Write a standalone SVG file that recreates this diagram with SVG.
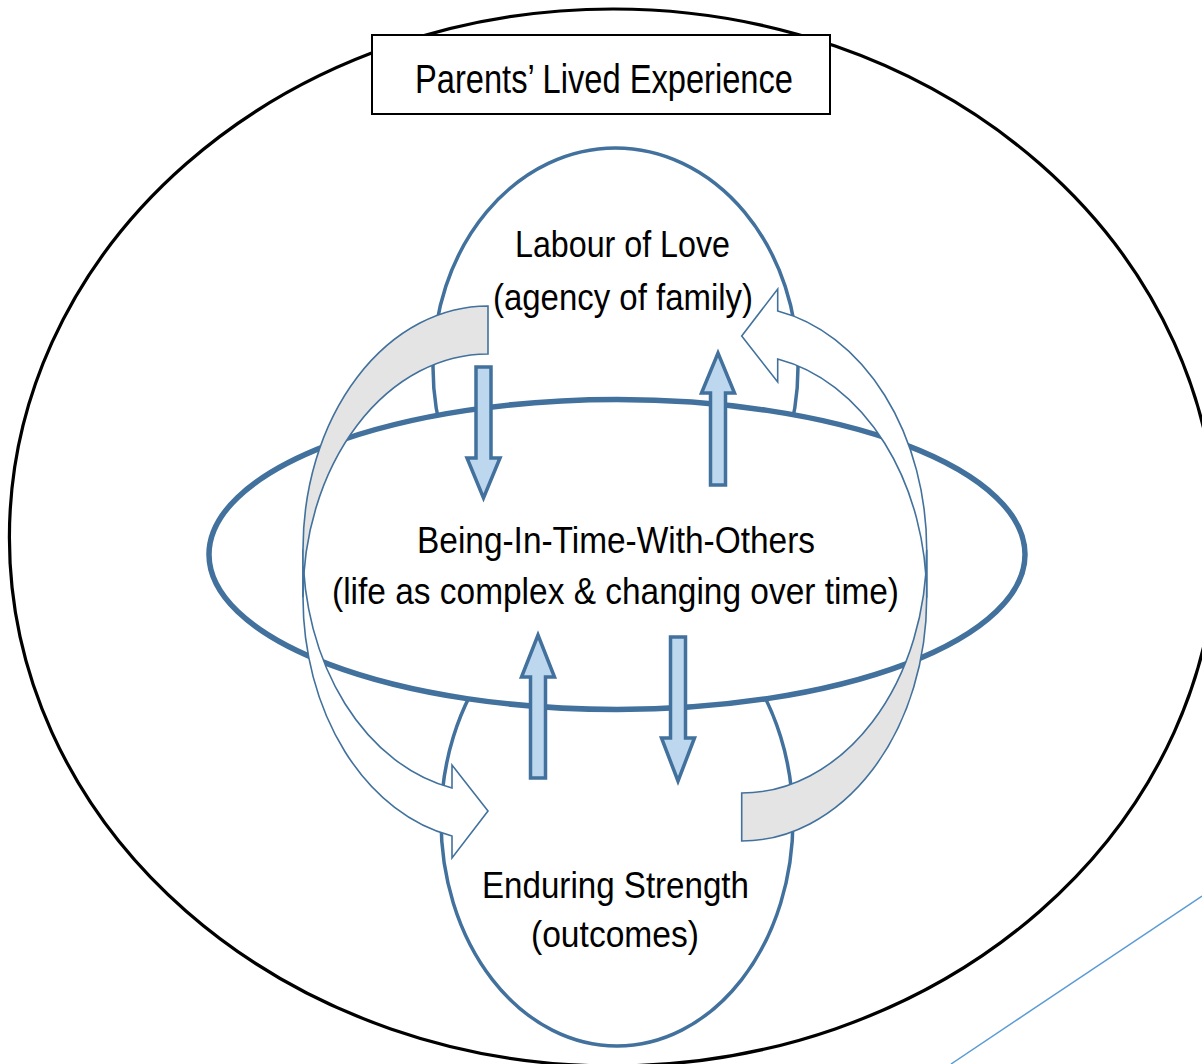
<svg xmlns="http://www.w3.org/2000/svg" width="1202" height="1064" viewBox="0 0 1202 1064">
  <style>
    .lbl { font-family: "Liberation Sans", Arial, sans-serif; fill: #000; text-anchor: middle; }
    .big { font-size: 36px; }
    .title { font-size: 40px; }
    .oval { fill: #ffffff; stroke: #41719C; stroke-width: 3.5; }
    .blk { fill: #BDD7EE; stroke: #41719C; stroke-width: 3.5; stroke-linejoin: miter; }
    .cbody { fill: #ffffff; stroke: #41719C; stroke-width: 1.6; stroke-linejoin: miter; }
    .cback { fill: #E4E4E4; stroke: #41719C; stroke-width: 1.6; stroke-linejoin: miter; }
  </style>
  <defs>
    <g id="curvedArrow">
      <path class="cbody" d="M303,549.3 A185,243.3 0 0 0 452,788 L452,765 L488,811 L452,858 L452,836 A185,243.3 0 0 1 303,597.3 Z"/>
      <path class="cback" d="M488,306 A185,243.3 0 0 0 303,549.3 L303,597.3 A185,243.3 0 0 1 488,354 Z"/>
    </g>
  </defs>
  <rect x="0" y="0" width="1202" height="1064" fill="#ffffff"/>

  <g id="context">
    <ellipse cx="613" cy="537.5" rx="603.6" ry="528.5" fill="none" stroke="#000000" stroke-width="3.2"/>
    <line x1="1202" y1="896" x2="951" y2="1064" stroke="#5B9BD5" stroke-width="1.5"/>
  </g>

  <g id="title">
    <rect x="372" y="35" width="458" height="79" fill="#ffffff" stroke="#000000" stroke-width="2"/>
    <text class="lbl title" x="604" y="92.5" textLength="378" lengthAdjust="spacingAndGlyphs">Parents’ Lived Experience</text>
  </g>

  <g id="labour">
    <ellipse class="oval" cx="615.5" cy="367" rx="182.5" ry="219"/>
  </g>
  <g id="enduring">
    <ellipse class="oval" cx="617" cy="820" rx="176" ry="226"/>
  </g>
  <g id="being">
    <ellipse cx="617" cy="554.5" rx="408" ry="155" fill="#ffffff" stroke="#41719C" stroke-width="5.5"/>
  </g>

  <g id="connectors">
    <path class="blk" d="M476,367 L491,367 L491,458 L500,458 L483.5,498 L467,458 L476,458 Z"/>
    <path class="blk" d="M710.5,485 L725.5,485 L725.5,393 L734.5,393 L718,353 L701.5,393 L710.5,393 Z"/>
    <path class="blk" d="M530.5,778 L545.5,778 L545.5,677 L554.5,677 L538,635 L521.5,677 L530.5,677 Z"/>
    <path class="blk" d="M670.5,637 L685.5,637 L685.5,738 L694.5,738 L678,781 L661.5,738 L670.5,738 Z"/>
    <use href="#curvedArrow"/>
    <use href="#curvedArrow" transform="matrix(-1 0 0 -1 1229.7 1147)"/>
  </g>

  <g id="labels">
    <text class="lbl big" x="622.5" y="256.5" textLength="215" lengthAdjust="spacingAndGlyphs">Labour of Love</text>
    <text class="lbl big" x="623" y="310" textLength="260" lengthAdjust="spacingAndGlyphs">(agency of family)</text>
    <text class="lbl big" x="616" y="553" textLength="398" lengthAdjust="spacingAndGlyphs">Being-In-Time-With-Others</text>
    <text class="lbl big" x="615.5" y="604" textLength="567" lengthAdjust="spacingAndGlyphs">(life as complex &amp; changing over time)</text>
    <text class="lbl big" x="615.5" y="898" textLength="267" lengthAdjust="spacingAndGlyphs">Enduring Strength</text>
    <text class="lbl big" x="615" y="947" textLength="168" lengthAdjust="spacingAndGlyphs">(outcomes)</text>
  </g>
</svg>
